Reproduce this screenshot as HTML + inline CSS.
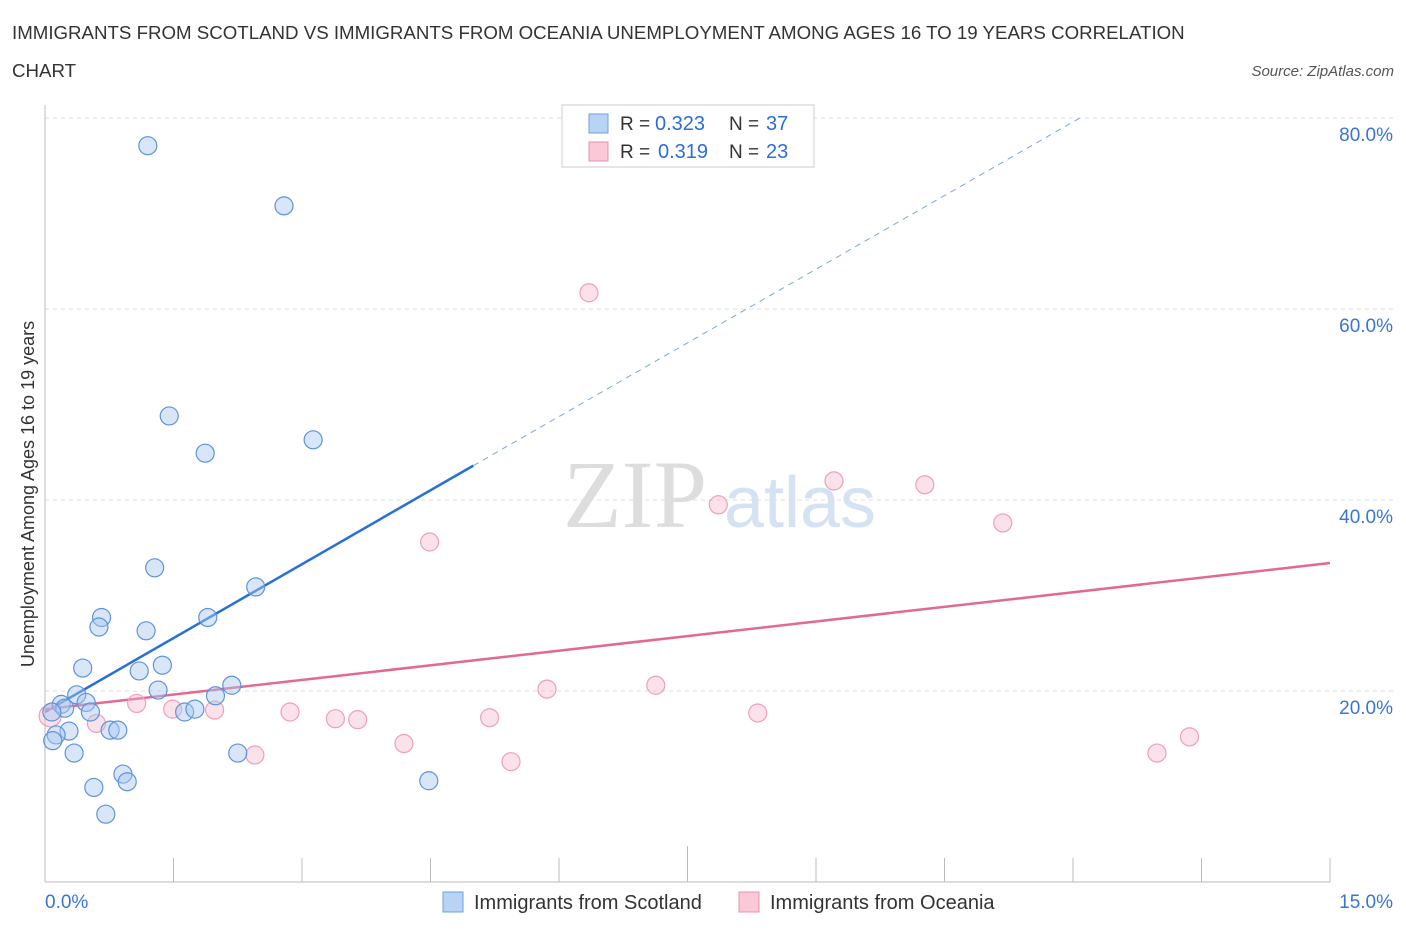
<!DOCTYPE html>
<html><head><meta charset="utf-8"><style>
body{margin:0;background:#fff;font-family:"Liberation Sans",sans-serif}
</style></head><body>
<svg id="c" width="1406" height="930" xmlns="http://www.w3.org/2000/svg" font-family="Liberation Sans, sans-serif">
<text x="12" y="39" font-size="18.7" fill="#333">IMMIGRANTS FROM SCOTLAND VS IMMIGRANTS FROM OCEANIA UNEMPLOYMENT AMONG AGES 16 TO 19 YEARS CORRELATION</text>
<text x="12" y="77" font-size="18.7" fill="#333">CHART</text>
<text x="1394" y="76" font-size="15" fill="#555" font-style="italic" text-anchor="end">Source: ZipAtlas.com</text>
<text x="635" y="527" font-size="96" fill="#ddd" font-family="Liberation Serif, serif" text-anchor="middle">ZIP</text>
<text x="800" y="527" font-size="72" fill="#d4e2f4" text-anchor="middle">atlas</text>
<g id="grid"></g><g id="axes"></g><g id="lines"></g><g id="pts"></g>
<text transform="translate(34,494) rotate(-90)" font-size="18" fill="#333" text-anchor="middle">Unemployment Among Ages 16 to 19 years</text>
<g>
<rect x="562" y="105" width="252" height="62" fill="#fff" stroke="#ccc"/>
<rect x="589" y="114" width="19" height="19" fill="#b9d3f5" stroke="#6fa0e0"/>
<text x="620" y="130" font-size="19" fill="#333">R =</text><text x="655" y="130" font-size="20" fill="#2b6ed6">0.323</text>
<text x="729" y="130" font-size="19" fill="#333">N =</text><text x="766" y="130" font-size="20" fill="#2b6ed6">37</text>
<rect x="589" y="142" width="19" height="19" fill="#f9c9d7" stroke="#e890aa"/>
<text x="620" y="158" font-size="19" fill="#333">R =</text><text x="658" y="158" font-size="20" fill="#2b6ed6">0.319</text>
<text x="729" y="158" font-size="19" fill="#333">N =</text><text x="766" y="158" font-size="20" fill="#2b6ed6">23</text>
</g>
<g>
<rect x="443" y="892" width="20" height="20" fill="#b9d3f5" stroke="#6fa0e0"/>
<text x="474" y="909" font-size="20" fill="#333">Immigrants from Scotland</text>
<rect x="739" y="892" width="20" height="20" fill="#f9c9d7" stroke="#e890aa"/>
<text x="770" y="909" font-size="20" fill="#333">Immigrants from Oceania</text>
</g>
</svg>
<script>
const xTicks=[0,15];
const yTicks=[20,40,60,80];
const scotX=[1.2,2.79,1.45,1.87,3.13,1.28,2.46,0.66,0.63,1.90,1.18,0.44,1.10,1.37,1.32,2.18,1.99,0.37,0.48,0.19,0.23,0.53,0.08,1.63,1.75,0.76,0.85,0.28,0.13,0.09,0.34,2.25,0.91,0.96,0.57,4.48,0.71];
const scotY=[77.1,70.8,48.8,44.9,46.3,32.9,30.9,27.7,26.7,27.7,26.3,22.4,22.1,22.7,20.1,20.6,19.5,19.6,18.8,18.6,18.2,17.8,17.8,17.8,18.1,15.9,15.9,15.8,15.4,14.8,13.5,13.5,11.3,10.5,9.9,10.6,7.1];
const oceX=[6.35,9.21,10.27,7.86,11.18,4.49,5.86,7.13,1.07,1.49,1.98,2.86,3.39,3.65,5.19,8.32,0.60,0.06,4.19,2.45,5.44,12.98,13.36];
const oceY=[61.7,42.0,41.6,39.5,37.6,35.6,20.2,20.6,18.7,18.1,18.0,17.8,17.1,17.0,17.2,17.7,16.6,17.4,14.5,13.3,12.6,13.5,15.2];
const blueLine={x0:0,y0:17.8,x1:5.0,y1:43.6,x2:12.08,y2:80.0};
const pinkLine={x0:0,y0:18.1,x1:15,y1:33.4};
const L=45,R=1330,T=118,B=882;
const sx=v=>L+v/15*(R-L);
const Y=v=>B-v/80*(B-T);
const ns='http://www.w3.org/2000/svg';
function mk(t,a,p){const e=document.createElementNS(ns,t);for(const k in a)e.setAttribute(k,a[k]);p.appendChild(e);return e;}
const g=document.getElementById('grid'),ax=document.getElementById('axes'),ln=document.getElementById('lines'),pt=document.getElementById('pts');
yTicks.forEach(v=>{const l=mk('line',{x1:L,x2:1395,y1:Y(v),y2:Y(v),stroke:'#ddd','stroke-dasharray':'4,4'},g);


const t=mk('text',{x:1393,y:Y(v)+23,'font-size':19,fill:'#3a74d4','text-anchor':'end'},ax);t.textContent=v.toFixed(1)+'%';

});
const xa=mk('line',{x1:L,x2:R,y1:B,y2:B,stroke:'#bbb'},ax);


const ya=mk('line',{x1:L,x2:L,y1:105,y2:B,stroke:'#bbb'},ax);


for(let i=1;i<=10;i++){const x=L+i*(R-L)/10;const tk=mk('line',{x1:x,x2:x,y1:B,y2:i==5?B-36:B-24,stroke:'#bbb'},ax);

}
xTicks.forEach((v,i)=>{const t=mk('text',{x:i?1393:45,y:908,'font-size':19,fill:'#3a74d4','text-anchor':i?'end':'start'},ax);t.textContent=v.toFixed(1)+'%';

});
const bl=mk('line',{x1:sx(blueLine.x0),y1:Y(blueLine.y0),x2:sx(blueLine.x1),y2:Y(blueLine.y1),stroke:'#2670d8','stroke-width':2.5},ln);


const bd=mk('line',{x1:sx(blueLine.x1),y1:Y(blueLine.y1),x2:sx(blueLine.x2),y2:Y(blueLine.y2),stroke:'#7aa6e6','stroke-width':1,'stroke-dasharray':'6,5'},ln);


const pl=mk('line',{x1:sx(pinkLine.x0),y1:Y(pinkLine.y0),x2:sx(pinkLine.x1),y2:Y(pinkLine.y1),stroke:'#e2698f','stroke-width':2.5},ln);


oceX.forEach((x,i)=>{const c=mk('circle',{cx:sx(x),cy:Y(oceY[i]),r:i==17?11:9,fill:'rgba(246,180,200,0.4)',stroke:'#eea0b8','stroke-width':1.2},pt);

});
scotX.forEach((x,i)=>{const c=mk('circle',{cx:sx(x),cy:Y(scotY[i]),r:9,fill:'rgba(170,200,240,0.45)',stroke:'#5d93dd','stroke-width':1.2},pt);

});
</script>
</body></html>
